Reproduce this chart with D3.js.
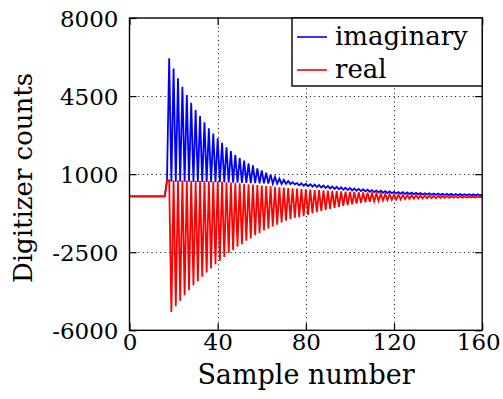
<!DOCTYPE html>
<html>
<head>
<meta charset="utf-8">
<script src="https://cdn.jsdelivr.net/npm/d3@7.9.0/dist/d3.min.js"></script>
<style>
  body { margin: 0; background: #fff; }
</style>
</head>
<body>
<svg id="chart" width="503" height="399"></svg>
<script>
// === data ===
const xTicks = [0, 40, 80, 120, 160];
const yTicks = [-6000, -2500, 1000, 4500, 8000];
const seriesNames = ['imaginary', 'real'];

// one value per sample, sample 0 .. 160
const imaginary = [
  0, 0, 0, 0, 0, 0, 0, 0, 0, 0,
  0, 0, 0, 0, 0, 0, 0, 700, 6200, 660,
  5730, 660, 5300, 660, 4920, 655, 4550, 655, 4200, 650,
  3870, 650, 3600, 645, 3330, 645, 3060, 640, 2820, 640,
  2610, 635, 2410, 630, 2200, 625, 2030, 620, 1870, 615,
  1730, 610, 1610, 605, 1480, 600, 1390, 595, 1260, 590,
  1170, 585, 1070, 580, 980, 575, 880, 570, 800, 565,
  740, 560, 690, 555, 640, 545, 600, 500, 590, 480,
  570, 460, 550, 440, 530, 420, 510, 400, 490, 380,
  470, 360, 450, 340, 430, 320, 410, 300, 390, 285,
  375, 270, 360, 255, 340, 240, 320, 225, 300, 210,
  285, 195, 270, 180, 255, 165, 240, 155, 225, 145,
  210, 135, 200, 125, 190, 115, 180, 105, 170, 100,
  160, 95, 150, 90, 145, 85, 140, 80, 135, 75,
  130, 70, 125, 65, 120, 60, 115, 55, 110, 55,
  105, 50, 100, 50, 100, 45, 95, 45, 95, 40,
  90
];

const real = [
  0, 0, 0, 0, 0, 0, 0, 0, 0, 0,
  0, 0, 0, 0, 0, 0, 0, 700, 720, -5180,
  720, -4920, 715, -4680, 715, -4430, 710, -4200, 705, -3980,
  700, -3800, 695, -3600, 690, -3410, 685, -3230, 675, -3040,
  665, -2880, 655, -2710, 640, -2530, 625, -2410, 610, -2250,
  590, -2140, 570, -1980, 550, -1880, 530, -1740, 510, -1650,
  490, -1520, 470, -1430, 450, -1340, 430, -1270, 410, -1160,
  395, -1090, 380, -1020, 365, -960, 350, -930, 335, -880,
  320, -830, 305, -760, 290, -700, 280, -650, 270, -600,
  260, -555, 250, -510, 240, -465, 230, -420, 220, -385,
  210, -350, 200, -320, 190, -290, 180, -265, 165, -240,
  150, -220, 140, -200, 125, -180, 115, -165, 100, -150,
  90, -140, 80, -130, 70, -120, 60, -110, 55, -100,
  50, -95, 45, -90, 40, -85, 35, -80, 30, -75,
  25, -70, 20, -65, 15, -62, 10, -58, 5, -55,
  0, -52, 0, -50, -5, -48, -5, -45, -10, -42,
  -10
];

// === layout ===
const plotLeft = 129.5, plotRight = 482.2, plotTop = 18, plotBottom = 330.3;
const FONT = '"DejaVu Serif", serif';
const svg = d3.select('#chart');

const x = d3.scaleLinear().domain([0, 160]).range([plotLeft, plotRight]);
const y = d3.scaleLinear().domain([-6000, 8000]).range([plotBottom, plotTop]);

// dotted grid
const grid = svg.append('g')
  .attr('stroke', '#000')
  .attr('stroke-width', 1)
  .attr('stroke-dasharray', '1,3.4');
xTicks.slice(1, -1).forEach((t) => {
  grid.append('line')
    .attr('x1', Math.round(x(t)) + 0.5).attr('x2', Math.round(x(t)) + 0.5)
    .attr('y1', plotTop).attr('y2', plotBottom);
});
yTicks.slice(1, -1).forEach((t) => {
  grid.append('line')
    .attr('x1', plotLeft).attr('x2', plotRight)
    .attr('y1', Math.round(y(t)) + 0.5).attr('y2', Math.round(y(t)) + 0.5);
});

// signal lines
const line = d3.line()
  .x((d, i) => x(i))
  .y((d) => y(d));

svg.append('path')
  .datum(imaginary)
  .attr('d', line)
  .attr('fill', 'none')
  .attr('stroke', '#0000ff')
  .attr('stroke-width', 1.8);

svg.append('path')
  .datum(real)
  .attr('d', line)
  .attr('fill', 'none')
  .attr('stroke', '#ff0000')
  .attr('stroke-width', 1.8);

// axes, ticks pointing inwards
const tickLen = 7;
const fmt = (d) => String(d); // plain hyphen for negatives, like the original

const xAxis = svg.append('g')
  .attr('transform', `translate(0,${plotBottom})`)
  .call(d3.axisBottom(x).tickValues(xTicks).tickFormat(fmt).tickSizeInner(-tickLen).tickSizeOuter(0).tickPadding(3));
const yAxis = svg.append('g')
  .attr('transform', `translate(${plotLeft},0)`)
  .call(d3.axisLeft(y).tickValues(yTicks).tickFormat(fmt).tickSizeInner(-tickLen).tickSizeOuter(0).tickPadding(11));
const xTop = svg.append('g')
  .attr('transform', `translate(0,${plotTop})`)
  .call(d3.axisTop(x).tickValues(xTicks).tickFormat('').tickSizeInner(-tickLen).tickSizeOuter(0));
const yRight = svg.append('g')
  .attr('transform', `translate(${plotRight},0)`)
  .call(d3.axisRight(y).tickValues(yTicks).tickFormat('').tickSizeInner(-tickLen).tickSizeOuter(0));

[xAxis, yAxis, xTop, yRight].forEach((g) => {
  g.select('.domain').remove();
  g.selectAll('line').attr('stroke', '#000').attr('stroke-width', 1.2);
});
xAxis.selectAll('text').style('font-family', FONT).style('font-size', '23px')
  .attr('dx', (d) => (d === 160 ? -4 : 0)); // last label sits against the page edge
yAxis.selectAll('text').style('font-family', FONT).style('font-size', '23px').attr('dy', '0.36em');

// frame
svg.append('rect')
  .attr('x', plotLeft).attr('y', plotTop)
  .attr('width', plotRight - plotLeft).attr('height', plotBottom - plotTop)
  .attr('fill', 'none')
  .attr('stroke', '#000')
  .attr('stroke-width', 1.4);

// axis titles
svg.append('text')
  .attr('x', 306)
  .attr('y', 384)
  .attr('text-anchor', 'middle')
  .style('font-family', FONT)
  .style('font-size', '27px')
  .text('Sample number');

svg.append('text')
  .attr('transform', `translate(32,178) rotate(-90)`)
  .attr('text-anchor', 'middle')
  .style('font-family', FONT)
  .style('font-size', '26px')
  .text('Digitizer counts');

// legend
const colors = ['#0000ff', '#ff0000'];
const legend = svg.append('g');
legend.append('rect')
  .attr('x', 292).attr('y', plotTop)
  .attr('width', plotRight - 292).attr('height', 68)
  .attr('fill', '#fff')
  .attr('stroke', '#000')
  .attr('stroke-width', 1.4);
seriesNames.forEach((name, i) => {
  const ly = 37 + i * 33;
  legend.append('line')
    .attr('x1', 297).attr('x2', 327)
    .attr('y1', ly).attr('y2', ly)
    .attr('stroke', colors[i])
    .attr('stroke-width', 1.6);
  legend.append('text')
    .attr('x', 335)
    .attr('y', ly + 8)
    .style('font-family', FONT)
    .style('font-size', '26px')
    .text(name);
});
</script>
</body>
</html>
